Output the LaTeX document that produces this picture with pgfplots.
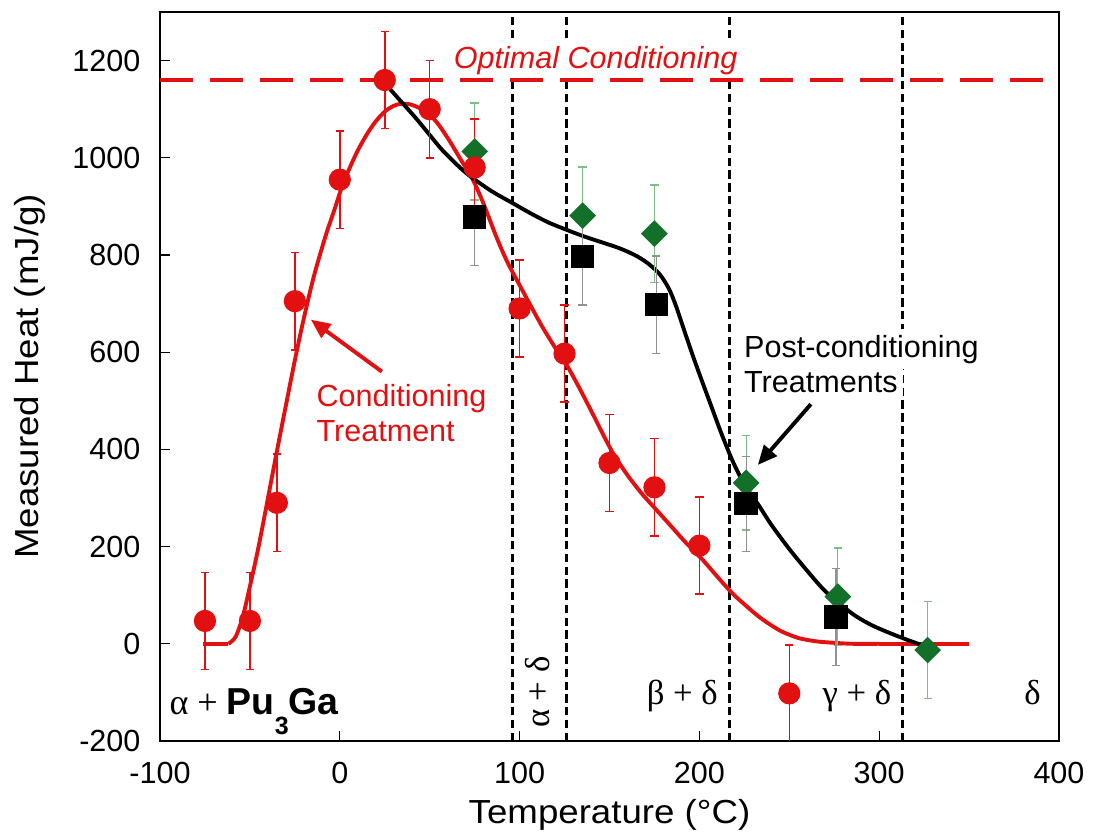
\documentclass[border=0pt]{standalone}
\usepackage{fontspec}
\setmainfont{Liberation Sans}
\newfontfamily\grk{Liberation Serif}
\newfontfamily\lblfont[FakeStretch=1.1]{Liberation Sans}
\usepackage{pgfplots}
\pgfplotsset{compat=1.18}
\usetikzlibrary{arrows.meta}

\definecolor{mred}{RGB}{226,16,16}
\definecolor{mgreen}{RGB}{18,112,40}
\definecolor{lgreen}{RGB}{125,190,135}
\definecolor{egray}{RGB}{145,145,145}

\begin{document}
\begin{tikzpicture}
\path[use as bounding box] (-57.6pt,-33.12pt) rectangle (339.48pt,266.76pt);
\begin{axis}[
  scale only axis, width=323.64pt, height=262.44pt,
  xmin=-100, xmax=400, ymin=-200, ymax=1300,
  xtick={-100,0,...,400}, ytick={-200,0,...,1200},
  tick align=inside, xtick pos=bottom, ytick pos=left,
  major tick length=3.6pt,
  tick style={black, line width=0.5pt},
  axis line style={black, line width=0.6pt},
  ticklabel style={font=\fontsize{11}{13}\selectfont},
  /pgf/number format/1000 sep={},
  /pgf/number format/assume math mode=true,
  yticklabel style={xshift=-3.5pt},
  xticklabel style={yshift=-4pt},
  xlabel={Temperature (°C)}, ylabel={Measured Heat (mJ/g)},
  label style={font=\lblfont\fontsize{12}{14}\selectfont},
  xlabel style={at={(axis description cs:0.5,-0.1015)}, anchor=center},
  ylabel style={at={(axis description cs:-0.1446,0.5)}, anchor=center},
]
% phase boundaries
\addplot[black, line width=1.1pt, dash pattern=on 3pt off 1.6pt] coordinates {(96,-200) (96,1300)};
\addplot[black, line width=1.1pt, dash pattern=on 3pt off 1.6pt] coordinates {(126,-200) (126,1300)};
\addplot[black, line width=1.1pt, dash pattern=on 3pt off 1.6pt] coordinates {(217,-200) (217,1300)};
\addplot[black, line width=1.1pt, dash pattern=on 3pt off 1.6pt] coordinates {(313,-200) (313,1300)};

% label over boundaries
\node[anchor=base west, inner sep=2pt, fill=white, text=mred, font=\fontsize{11}{13}\selectfont\itshape] at (axis cs:60,1183) {Optimal Conditioning};
% optimal line
\addplot[mred, line width=1.4pt, dash pattern=on 12pt off 6pt] coordinates {(-100,1160) (400,1160)};

% conditioning curve
\addplot[mred, line width=1.4pt] coordinates {(-76,0) (-62,0)};
\addplot[mred, line width=1.4pt, smooth] coordinates {
(-62,0) (-58,14) (-54,55) (-50,118) (-46,185) (-42,260) (-38,338) (-34,415) (-30,490) (-26,565) (-22,636) (-18,702) (-14,762) (-8,838) (-3,893) (1,938) (5,975) (10,1015) (15,1048) (20,1075) (25,1095) (30,1107) (34,1111) (39,1110) (44,1103) (50,1088) (55,1068) (61,1035) (67,998) (74,955) (80,905) (87,838) (93,787) (100,738) (107,690) (113,650) (120,608) (126,575) (133,528) (140,478) (146,434) (152,392) (160,347) (168,309) (176,276) (184,243) (192,210) (202,172) (210,138) (218,105) (226,78) (233,56) (240,38) (246,25) (255,12) (265,5) (275,2) (285,0) (300,0)};
\addplot[mred, line width=1.4pt] coordinates {(300,0) (350,0)};

% post-conditioning curve
\addplot[black, line width=1.4pt, smooth] coordinates {
(28,1141) (35,1112) (42,1083) (50,1047) (56,1020) (62,997) (68,976) (74,958) (85,930) (96,907) (106,886) (116,867) (126,852) (136,838) (145,827) (154,816) (160,807) (166,796) (172,781) (178,760) (183,731) (187,695) (192,640) (197,586) (202,535) (207,485) (212,435) (218,380) (223,342) (228,311) (233,285) (240,245) (250,195) (260,150) (269,112) (278,82) (287,57) (296,38) (306,22) (315,9) (324,-3)};

% green diamonds
\addplot[only marks, mark=square*, mark size=3.2pt, mark options={rotate=45, fill=mgreen, draw=mgreen},
  error bars/.cd, y dir=both, y explicit,
  error bar style={lgreen, line width=0.45pt},
  error mark options={rotate=90, lgreen, mark size=1.5pt, line width=0.45pt}]
  table[x=x, y=y, y error=e] {
x y e
75 1013 100
135 881 100
175 844 100
226 331 97
277 97 100
327 -13 100
};

% black squares
\addplot[only marks, mark=square*, mark size=4pt, mark options={fill=black, draw=black},
  error bars/.cd, y dir=both, y explicit,
  error bar style={egray, line width=0.45pt},
  error mark options={rotate=90, egray, mark size=1.5pt, line width=0.45pt}]
  table[x=x, y=y, y error=e] {
x y e
75 878 100
135 797 100
176 698 100
226 288 98
276 55 100
};

% red circles
\addplot[only marks, mark=*, mark size=3.8pt, mark options={fill=mred, draw=mred},
  error bars/.cd, y dir=both, y explicit,
  error bar style={mred, line width=0.55pt},
  error mark options={rotate=90, mred, mark size=1.5pt, line width=0.55pt}]
  table[x=x, y=y, y error=e] {
x y e
-75 47 100
-50 47 100
-35 290 100
-25 705 100
0 955 100
25 1160 100
50 1100 100
75 980 100
100 690 100
125 597 100
150 372 100
175 322 100
200 202 100
250 -102 100
};

% annotations
\node[anchor=base west, inner sep=0pt, text=mred, font=\fontsize{11}{13}\selectfont] at (axis cs:-13.2,488) {Conditioning};
\node[anchor=base west, inner sep=0pt, text=mred, font=\fontsize{11}{13}\selectfont] at (axis cs:-13.2,416) {Treatment};
\draw[mred, line width=1.4pt, -{Triangle[length=7pt, width=6pt]}] (axis cs:23.4,560) -- (axis cs:-16.1,667);

\node[anchor=base west, inner sep=2pt, fill=white, font=\fontsize{11}{13}\selectfont] at (axis cs:221.5,590) {Post-conditioning};
\node[anchor=base west, inner sep=2pt, fill=white, font=\fontsize{11}{13}\selectfont] at (axis cs:221.5,518) {Treatments};
\draw[black, line width=1.4pt, -{Triangle[length=7pt, width=6pt]}] (axis cs:262,493) -- (axis cs:232.5,368);

% phase labels
\node[anchor=base west, inner sep=0pt] at (axis cs:-95,-146) {{\grk\fontsize{13}{14}\selectfont α + }{\fontsize{13.5}{15}\selectfont\bfseries Pu\raisebox{-7pt}{\fontsize{9}{9}\selectfont 3}Ga}};
\node[anchor=base, inner sep=0pt, rotate=90, font=\grk\fontsize{12.5}{14}\selectfont] at (axis cs:116.7,-99.6) {α + δ};
\node[anchor=base, inner sep=0pt, font=\grk\fontsize{12.5}{14}\selectfont] at (axis cs:190.5,-125) {β + δ};
\node[anchor=base, inner sep=0pt, font=\grk\fontsize{12.5}{14}\selectfont] at (axis cs:287.6,-125) {γ + δ};
\node[anchor=base, inner sep=0pt, font=\grk\fontsize{12.5}{14}\selectfont] at (axis cs:385.3,-125) {δ};
\end{axis}
\end{tikzpicture}
\end{document}
